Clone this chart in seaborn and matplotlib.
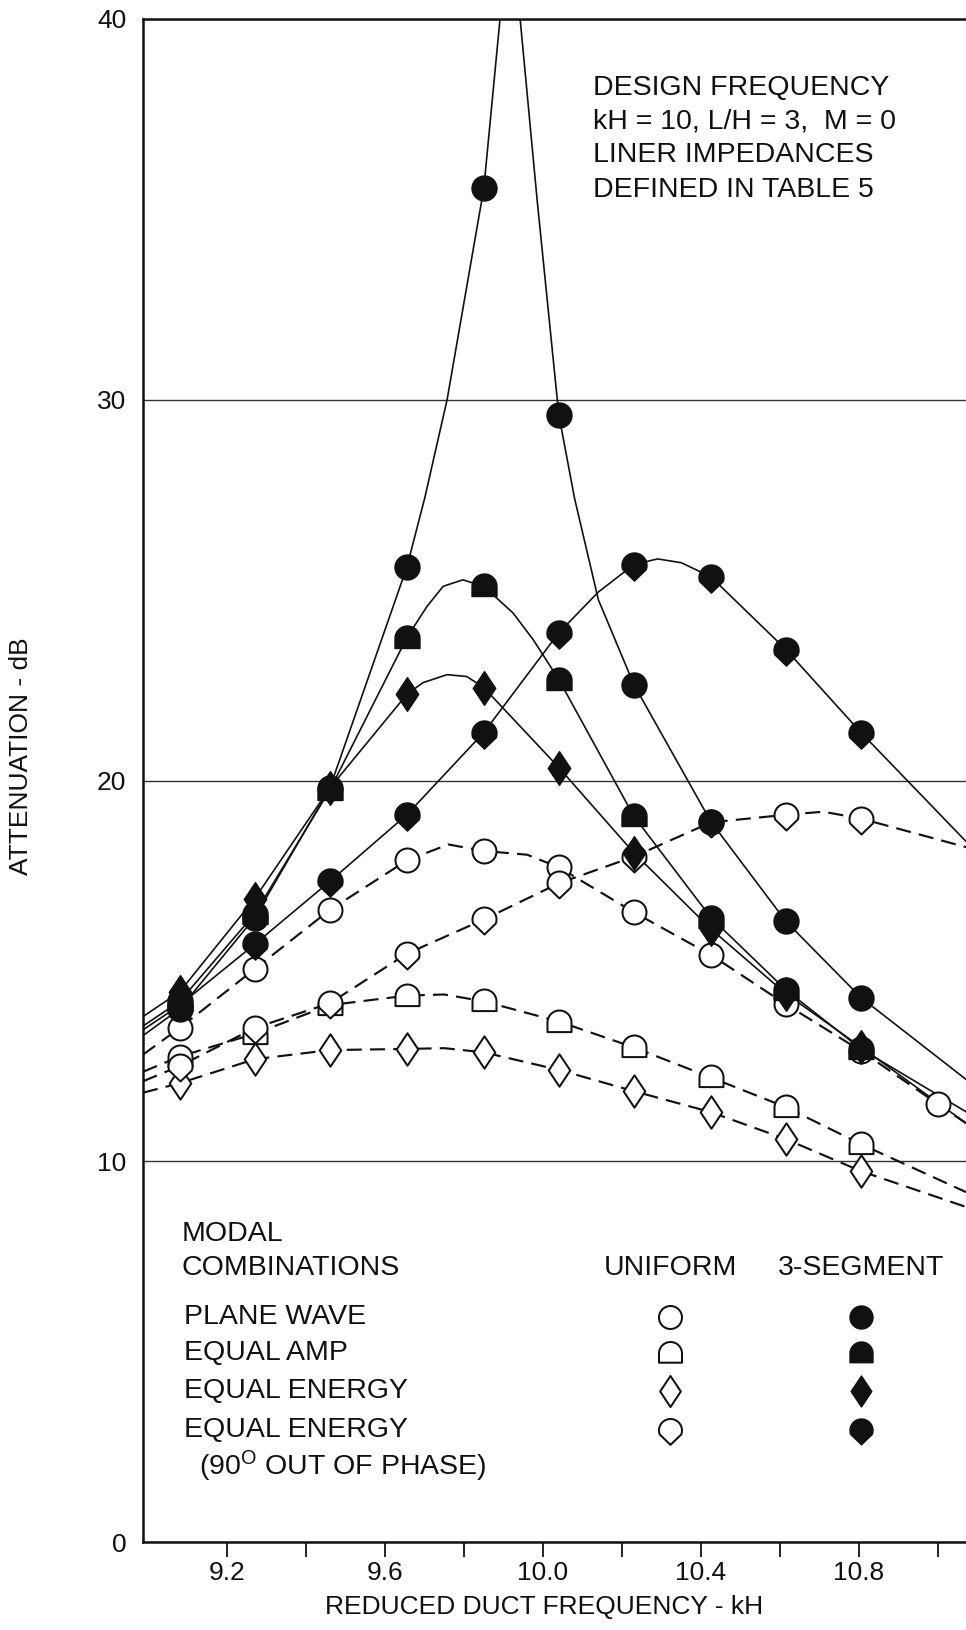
import numpy as np
import pandas as pd
import matplotlib
matplotlib.use("Agg")
import matplotlib.pyplot as plt
from matplotlib.path import Path
import seaborn as sns

# ---------------- data ----------------
KH = [9.08, 9.27, 9.46, 9.655, 9.85, 10.04, 10.23, 10.425, 10.615, 10.805, 11.0]

# uniform liner (open symbols, dashed curves)
PLANE_UNIFORM = [13.5, 15.05, 16.6, 17.9, 18.15, 17.72, 16.54, 15.42, 14.12, 12.9, 11.5]
EQAMP_UNIFORM = [12.75, 13.35, 14.1, 14.35, 14.2, 13.67, 12.99, 12.2, 11.42, 10.45]
EQEN_UNIFORM = [12.05, 12.68, 12.92, 12.95, 12.86, 12.4, 11.84, 11.29, 10.58, 9.74]
EQEN90_UNIFORM = [12.5, 13.5, 14.15, 15.45, 16.35, 17.3, 18.0, 18.9, 19.1, 19.0]

# 3-segment liner (filled symbols, solid curves)
PLANE_3SEG = [14.0, 16.4, 19.8, 25.6, 35.55, 29.6, 22.52, 18.92, 16.3, 14.3]
EQAMP_3SEG = [14.2, 16.5, 19.75, 23.75, 25.1, 22.65, 19.06, 16.4, 14.5, 12.95]
EQEN_3SEG = [14.45, 16.9, 19.8, 22.26, 22.44, 20.34, 18.1, 16.1, 14.4, 13.0]
EQEN90_3SEG = [14.1, 15.7, 17.35, 19.1, 21.26, 23.88, 25.67, 25.35, 23.44, 21.26]

# extra points (frame edges, peaks)
X_LEFT, X_RIGHT = 8.987, 11.071
PLANE_UNIFORM_CX = [X_LEFT, 9.76, 9.96, X_RIGHT]
PLANE_UNIFORM_CY = [12.8, 18.32, 18.05, 11.0]
EQAMP_UNIFORM_CX = [X_LEFT, 9.75, X_RIGHT]
EQAMP_UNIFORM_CY = [12.35, 14.38, 9.19]
EQEN_UNIFORM_CX = [X_LEFT, 9.75, X_RIGHT]
EQEN_UNIFORM_CY = [11.8, 12.97, 8.8]
EQEN90_UNIFORM_CX = [X_LEFT, 10.71, X_RIGHT]
EQEN90_UNIFORM_CY = [12.1, 19.18, 18.25]

PLANE_3SEG_CX = [X_LEFT, 9.70, 9.757, 9.891, 9.905, 9.93, 9.942, 9.985, 10.08, 10.14, X_RIGHT]
PLANE_3SEG_CY = [13.3, 27.4, 30.0, 40.0, 42.0, 42.0, 40.0, 35.25, 27.4, 24.75, 12.15]
EQAMP_3SEG_CX = [X_LEFT, 9.706, 9.747, 9.797, 9.924, 9.975, X_RIGHT]
EQAMP_3SEG_CY = [13.55, 24.57, 25.1, 25.27, 24.4, 23.7, 11.3]
EQEN_3SEG_CX = [X_LEFT, 9.696, 9.757, 9.807, X_RIGHT]
EQEN_3SEG_CY = [13.8, 22.57, 22.78, 22.73, 11.0]
EQEN90_3SEG_CX = [X_LEFT, 10.14, 10.29, 10.35, X_RIGHT]
EQEN90_3SEG_CY = [13.45, 24.95, 25.82, 25.72, 18.4]

Y_TICKS = [0, 10, 20, 30, 40]
X_TICKS_MAJOR = [9.2, 9.6, 10.0, 10.4, 10.8]
X_TICK_LABELS = ["9.2", "9.6", "10.0", "10.4", "10.8"]
X_TICKS_MINOR = [9.4, 9.8, 10.2, 10.6, 11.0]

COMBINATIONS = ["PLANE WAVE", "EQUAL AMP", "EQUAL ENERGY", "EQUAL ENERGY"]

# ---------------- style ----------------
sns.set_style("white")
plt.rcParams["font.family"] = ["Liberation Sans", "DejaVu Sans"]
plt.rcParams["mathtext.fontset"] = "custom"
plt.rcParams["mathtext.rm"] = "Liberation Sans"
plt.rcParams["mathtext.it"] = "Liberation Sans:italic"
plt.rcParams["mathtext.bf"] = "Liberation Sans:bold"
INK = "#111111"
FS = 19       # ticks and axis titles
FS_T = 20.5   # annotation and key


def arch_path():
    t = np.linspace(0, np.pi, 30)
    v = np.column_stack([np.cos(t), np.sin(t)])
    v = np.vstack([v, [[-1, -0.8], [1, -0.8], [1, 0]]])
    codes = [Path.MOVETO] + [Path.LINETO] * (len(v) - 2) + [Path.CLOSEPOLY]
    return Path(v, codes)


def shield_path():
    t = np.linspace(np.radians(-20), np.radians(200), 40)
    v = np.column_stack([np.cos(t), np.sin(t)])
    v = np.vstack([v, [[0, -1.25], [v[0, 0], v[0, 1]]]])
    codes = [Path.MOVETO] + [Path.LINETO] * (len(v) - 2) + [Path.CLOSEPOLY]
    return Path(v, codes)


def diamond_path():
    v = np.array([[0, 1.35], [0.9, 0], [0, -1.35], [-0.9, 0], [0, 1.35]])
    codes = [Path.MOVETO, Path.LINETO, Path.LINETO, Path.LINETO, Path.CLOSEPOLY]
    return Path(v, codes)


# marker: (shape, max-abs extent in units of circle radius)
MARKERS = {
    "circle": ("o", 1.0),
    "arch": (arch_path(), 1.0),
    "diamond": (diamond_path(), 1.35),
    "shield": (shield_path(), 1.25),
}


def msize(kind, radius_px):
    shape, m = MARKERS[kind]
    ms = 2 * m * radius_px * 72 / 100.0
    return shape, ms ** 2


fig = plt.figure(figsize=(9.66, 16.30), dpi=100)
ax = fig.add_axes([143 / 966, 88 / 1630, 823 / 966, 1523 / 1630])

SERIES = [
    (PLANE_UNIFORM, PLANE_UNIFORM_CX, PLANE_UNIFORM_CY, "uniform", "circle"),
    (EQAMP_UNIFORM, EQAMP_UNIFORM_CX, EQAMP_UNIFORM_CY, "uniform", "arch"),
    (EQEN_UNIFORM, EQEN_UNIFORM_CX, EQEN_UNIFORM_CY, "uniform", "diamond"),
    (EQEN90_UNIFORM, EQEN90_UNIFORM_CX, EQEN90_UNIFORM_CY, "uniform", "shield"),
    (PLANE_3SEG, PLANE_3SEG_CX, PLANE_3SEG_CY, "3seg", "circle"),
    (EQAMP_3SEG, EQAMP_3SEG_CX, EQAMP_3SEG_CY, "3seg", "arch"),
    (EQEN_3SEG, EQEN_3SEG_CX, EQEN_3SEG_CY, "3seg", "diamond"),
    (EQEN90_3SEG, EQEN90_3SEG_CX, EQEN90_3SEG_CY, "3seg", "shield"),
]

DASH = (0, (7.0, 3.8))

for vals, cx, cy, liner, kind in SERIES:
    n = len(vals)
    df = pd.DataFrame({"kH": list(KH[:n]) + list(cx), "dB": list(vals) + list(cy)})
    df = df.sort_values("kH")
    if liner == "uniform":
        sns.lineplot(data=df, x="kH", y="dB", ax=ax, color=INK, linewidth=1.55,
                     linestyle=DASH, estimator=None, sort=True, zorder=2, legend=False)
    else:
        sns.lineplot(data=df, x="kH", y="dB", ax=ax, color=INK, linewidth=1.2,
                     estimator=None, sort=True, zorder=2, legend=False)

for vals, cx, cy, liner, kind in SERIES:
    n = len(vals)
    if liner == "uniform":
        shape, s = msize(kind, 12)
        sns.scatterplot(x=KH[:n], y=vals, ax=ax, marker=shape, s=s, color="white",
                        edgecolor=INK, linewidth=1.45, zorder=3, legend=False)
    else:
        shape, s = msize(kind, 12.5)
        sns.scatterplot(x=KH[:n], y=vals, ax=ax, marker=shape, s=s, color=INK,
                        edgecolor=INK, linewidth=1.0, zorder=4, legend=False)

# ---------------- axes ----------------
ax.set_xlim(X_LEFT, X_RIGHT)
ax.set_ylim(0, 40)
ax.set_xticks(X_TICKS_MAJOR)
ax.set_xticklabels(X_TICK_LABELS)
ax.set_xticks(X_TICKS_MINOR, minor=True)
ax.set_yticks(Y_TICKS)
ax.set_yticklabels([str(v) for v in Y_TICKS])
ax.tick_params(axis="x", which="both", bottom=True, direction="out", length=11,
               width=1.3, color=INK, pad=3, labelsize=FS, labelcolor=INK)
ax.tick_params(axis="y", left=False, length=0, pad=12, labelsize=FS, labelcolor=INK)

for side in ["left", "top", "bottom"]:
    ax.spines[side].set_visible(True)
    ax.spines[side].set_color(INK)
    ax.spines[side].set_linewidth(1.8)
ax.spines["right"].set_visible(False)

ax.grid(axis="y", color="#333333", linewidth=1.0)
ax.grid(axis="x", visible=False)
ax.set_axisbelow(True)

ax.set_ylabel("ATTENUATION - dB", fontsize=FS, color=INK)
ax.yaxis.set_label_coords(-0.1337, 0.516)
ax.set_xlabel("REDUCED DUCT FREQUENCY - kH", fontsize=FS, color=INK)
ax.xaxis.set_label_coords(0.487, -0.0345)

# ---------------- annotation ----------------
NOTE = ["DESIGN FREQUENCY", "kH = 10, L/H = 3,  M = 0", "LINER IMPEDANCES", "DEFINED IN TABLE 5"]
NOTE_Y = [0.9547, 0.9324, 0.9107, 0.8877]
for txt, yy in zip(NOTE, NOTE_Y):
    ax.text(0.547, yy, txt, transform=ax.transAxes, fontsize=FS_T, color=INK,
            ha="left", va="center")

# ---------------- legend (table style) ----------------
ax.text(0.047, 0.2025, "MODAL", transform=ax.transAxes, fontsize=FS_T, color=INK, va="center")
ax.text(0.047, 0.1800, "COMBINATIONS", transform=ax.transAxes, fontsize=FS_T, color=INK, va="center")
UX, SX = 0.6405, 0.8724
ax.text(UX, 0.1800, "UNIFORM", transform=ax.transAxes, fontsize=FS_T, color=INK, ha="center", va="center")
ax.text(SX, 0.1800, "3-SEGMENT", transform=ax.transAxes, fontsize=FS_T, color=INK, ha="center", va="center")
ROWS = [0.1478, 0.1238, 0.0990, 0.0735]
KINDS = ["circle", "arch", "diamond", "shield"]
for label, yy, kind in zip(COMBINATIONS, ROWS, KINDS):
    ax.text(0.050, yy, label, transform=ax.transAxes, fontsize=FS_T, color=INK, va="center")
    shape, s = msize(kind, 11.5)
    ax.scatter([UX], [yy], transform=ax.transAxes, marker=shape, s=s, facecolor="white",
               edgecolor=INK, linewidth=1.45, zorder=5, clip_on=False)
    ax.scatter([SX], [yy], transform=ax.transAxes, marker=shape, s=s, facecolor=INK,
               edgecolor=INK, linewidth=1.0, zorder=5, clip_on=False)
ax.text(0.068, 0.0495, r"(90$^{\mathrm{O}}$ OUT OF PHASE)", transform=ax.transAxes,
        fontsize=FS_T, color=INK, va="center")

ax.set_xlim(X_LEFT, X_RIGHT)
ax.set_ylim(0, 40)
fig.savefig("out.png", dpi=100, facecolor="white")
